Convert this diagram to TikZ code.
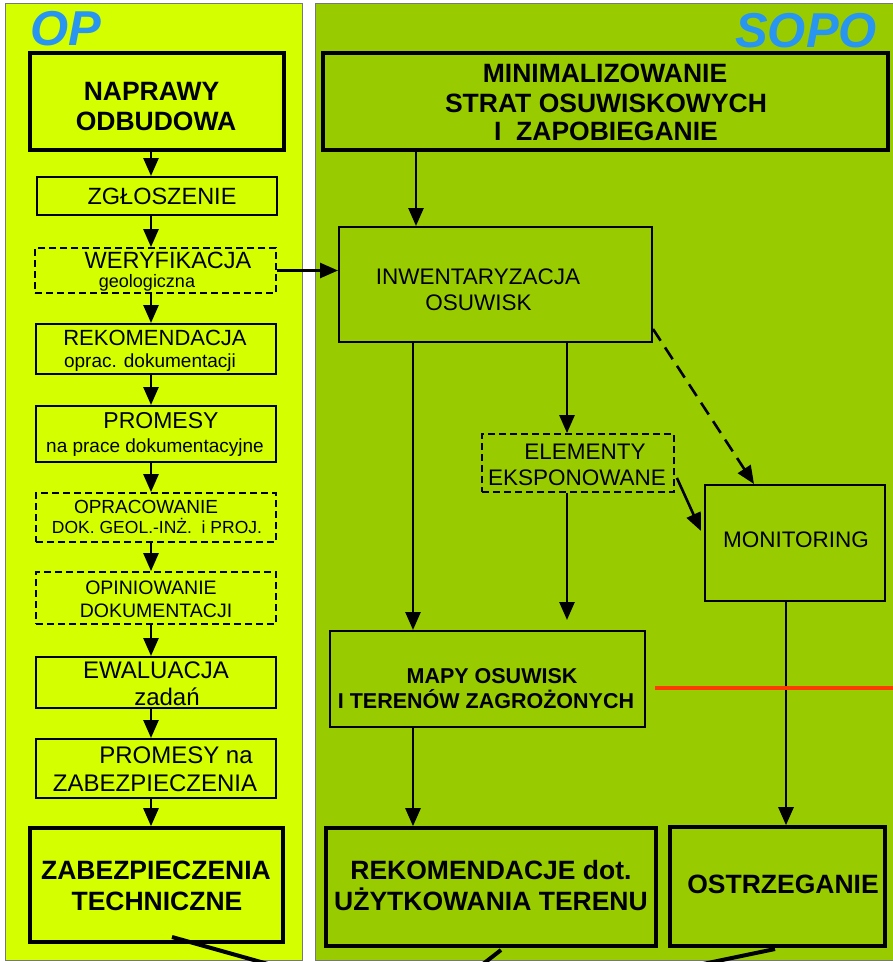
\documentclass[tikz,border=0pt]{standalone}
\usepackage{fontspec}
\setmainfont{Liberation Sans}
\usetikzlibrary{arrows.meta,fit}
\definecolor{leftbg}{RGB}{212,255,0}
\definecolor{rightbg}{RGB}{153,204,0}
\definecolor{titleblue}{RGB}{40,150,240}
\definecolor{redline}{RGB}{255,60,0}
\definecolor{panelborder}{RGB}{120,120,120}
\begin{document}
\begin{tikzpicture}[x=1pt,y=-1pt,
  thinbox/.style={draw, line width=2pt, inner sep=0pt},
  thickbox/.style={draw, line width=3.6pt, inner sep=0pt},
  dashbox/.style={draw, line width=1.8pt, inner sep=0pt, dash pattern=on 7pt off 4pt},
  arr/.style={line width=2.6pt, -{Triangle[length=18pt,width=15pt]}},
  dasharr/.style={arr, dash pattern=on 14pt off 8pt},
  txt/.style={anchor=base, inner sep=0pt},
  big/.style={txt, font=\fontsize{26.5}{30}\selectfont\bfseries},
  mid/.style={txt, font=\fontsize{21.5}{25}\selectfont\bfseries},
  reg/.style={txt, font=\fontsize{#1}{#1}\selectfont},
  title/.style={txt, text=titleblue, font=\fontsize{49}{50}\selectfont\bfseries\itshape},
  fragment/.style={line width=4pt}
]
\useasboundingbox (0,0) rectangle (893,962);
\fill[white] (0,0) rectangle (893,962);

% panels
\filldraw[fill=leftbg, draw=panelborder, line width=1pt] (5,3) rectangle (302,960);
\filldraw[fill=rightbg, draw=panelborder, line width=1pt] (315,3) rectangle (895,960);

% titles
\node[title, anchor=base west] (op) at (30,45) {OP};
\node[title] (sopo) at (806,47) {SOPO};

% left column boxes
\node[thickbox, fit={(30,53) (284,150)}] (L1) {};
\node[thinbox, fit={(37,177) (277,215)}] (L2) {};
\node[dashbox, fit={(35,248) (276,293)}] (L3) {};
\node[thinbox, fit={(36,324) (276,374)}] (L4) {};
\node[thinbox, fit={(36,406) (276,462)}] (L5) {};
\node[dashbox, fit={(36,493) (276,542)}] (L6) {};
\node[dashbox, fit={(36,572) (276,624)}] (L7) {};
\node[thinbox, fit={(36,657) (276,708)}] (L8) {};
\node[thinbox, fit={(36,739) (276,798)}] (L9) {};
\node[thickbox, fit={(30,828) (283,942)}] (L10) {};

% left column texts
\node[big] (t1a) at (151.5,100) {NAPRAWY};
\node[big] (t1b) at (156,130) {ODBUDOWA};
\node[reg=23.5] (t2a) at (162,204) {ZGŁOSZENIE};
\node[reg=23.5] (t3a) at (168,268) {WERYFIKACJA};
\node[reg=18] (t3b) at (147,287.5) {geologiczna};
\node[reg=22] (t4a) at (155,345) {REKOMENDACJA};
\node[reg=19] (t4b) at (150,367) {oprac. dokumentacji};
\node[reg=23] (t5a) at (161,428) {PROMESY};
\node[reg=19] (t5b) at (155,452) {na prace dokumentacyjne};
\node[reg=19] (t6a) at (146,513) {OPRACOWANIE};
\node[reg=17.5] (t6b) at (157,533) {DOK. GEOL.-INŻ.\ \ i PROJ.};
\node[reg=19.5] (t7a) at (151,594) {OPINIOWANIE};
\node[reg=19.5] (t7b) at (156,617) {DOKUMENTACJI};
\node[reg=24] (t8a) at (156,678) {EWALUACJA};
\node[reg=24] (t8b) at (167,705) {zadań};
\node[reg=24] (t9a) at (176,763) {PROMESY na};
\node[reg=24] (t9b) at (155,791) {ZABEZPIECZENIA};
\node[big] (t10a) at (156,879) {ZABEZPIECZENIA};
\node[big] (t10b) at (157,910) {TECHNICZNE};

% right boxes
\node[thickbox, fit={(323,53) (888,150)}] (R1) {};
\node[thinbox, fit={(339,227) (652,342)}] (R2) {};
\node[dashbox, fit={(482,434) (674,492)}] (R3) {};
\node[thinbox, fit={(705,485) (885,601)}] (R4) {};
\node[thinbox, fit={(330,631) (645,727)}] (R5) {};
\node[thickbox, fit={(326,828) (656,946)}] (R6) {};
\node[thickbox, fit={(670,827) (885,946)}] (R7) {};

% right texts
\node[big] (r1a) at (605,82) {MINIMALIZOWANIE};
\node[big] (r1b) at (606,112) {STRAT OSUWISKOWYCH};
\node[big] (r1c) at (606,140) {I\ \ ZAPOBIEGANIE};
\node[reg=22.5] (r2a) at (478,284) {INWENTARYZACJA};
\node[reg=22.5] (r2b) at (478.5,310) {OSUWISK};
\node[reg=22.5] (r3a) at (585,459) {ELEMENTY};
\node[reg=22.5] (r3b) at (577,485) {EKSPONOWANE};
\node[reg=22.5] (r4a) at (796,547) {MONITORING};
\node[mid] (r5a) at (492,683) {MAPY OSUWISK};
\node[mid] (r5b) at (486,708) {I TERENÓW ZAGROŻONYCH};
\node[big] (r6a) at (491,879) {REKOMENDACJE dot.};
\node[big] (r6b) at (491,910) {UŻYTKOWANIA TERENU};
\node[big] (r7a) at (783,893) {OSTRZEGANIE};

% left column connectors
\coordinate (colx) at (151,0);
\draw[arr] (L1.south -| colx) -- (L2.north -| colx);
\draw[arr] (L2.south -| colx) -- (L3.north -| colx);
\draw[arr] (L3.south -| colx) -- (L4.north -| colx);
\draw[arr] (L4.south -| colx) -- (L5.north -| colx);
\draw[arr] (L5.south -| colx) -- (L6.north -| colx);
\draw[arr] (L6.south -| colx) -- (L7.north -| colx);
\draw[arr] (L7.south -| colx) -- (L8.north -| colx);
\draw[arr] (L8.south -| colx) -- (L9.north -| colx);
\draw[arr] (L9.south -| colx) -- (L10.north -| colx);

% cross connector
\draw[arr] (L3.east) -- (L3.east -| R2.west);

% right connectors
\coordinate (cA) at (416,0);
\coordinate (cB) at (413,0);
\coordinate (cC) at (567,0);
\coordinate (cD) at (786,0);
\draw[arr] (R1.south -| cA) -- (R2.north -| cA);
\draw[arr] (R2.south -| cB) -- (R5.north -| cB);
\draw[arr] (R2.south -| cC) -- (R3.north -| cC);
\path (R5.north -| cC) ++(0,-10) coordinate (e5);
\draw[arr] (R3.south -| cC) -- (e5);
\draw[dasharr] ([shift={(0,-14)}]R2.south east) -- ([shift={(50,0)}]R4.north west);
\draw[arr] ([shift={(2,-15)}]R3.south east) -- ([shift={(-3,-12)}]R4.west);
\draw[arr] (R4.south -| cD) -- (R7.north -| cD);
\draw[arr] (R5.south -| cB) -- (R6.north -| cB);

% red line
\coordinate (red1) at (655,688);
\coordinate (red2) at (893,688);
\draw[redline, line width=4pt] (red1) -- (red2);

% line fragments at the bottom edge
\coordinate (f1a) at (172,937);
\coordinate (f1b) at (268,964);
\coordinate (f2a) at (501,950);
\coordinate (f2b) at (483,964);
\coordinate (f3a) at (775,949);
\coordinate (f3b) at (703,964);
\draw[fragment] (f1a) -- (f1b);
\draw[fragment] (f2a) -- (f2b);
\draw[fragment] (f3a) -- (f3b);
\end{tikzpicture}
\end{document}
